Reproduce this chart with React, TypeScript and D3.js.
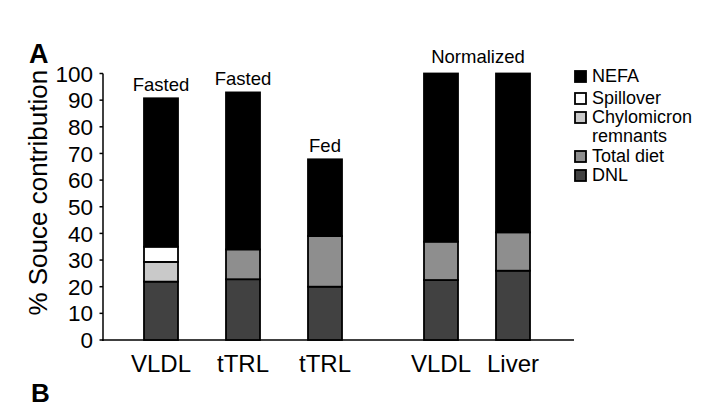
import { useMemo } from 'react';
import * as d3 from 'd3';

// bars in order, left group (fasted / fed) and right group (normalized)
const categories = ['VLDL', 'tTRL', 'tTRL', 'VLDL', 'Liver'];
const groups = ['left', 'left', 'left', 'right', 'right'];
const barNotes = ['Fasted', 'Fasted', 'Fed', '', ''];

// stacked from the bottom up
const sources = ['DNL', 'Total diet', 'Chylomicron remnants', 'Spillover', 'NEFA'];
const dnl = [21.9, 22.8, 20.0, 22.5, 26.0];
const totalDiet = [0, 11.2, 19.0, 14.4, 14.4];
const chylo = [7.4, 0, 0, 0, 0];
const spillover = [5.7, 0, 0, 0, 0];
const nefa = [55.7, 58.9, 28.8, 63.1, 59.6];

const yTicks = [0, 10, 20, 30, 40, 50, 60, 70, 80, 90, 100];
const legendLabels = ['NEFA', 'Spillover', 'Chylomicron|remnants', 'Total diet', 'DNL'];
const legendKeys = ['NEFA', 'Spillover', 'Chylomicron remnants', 'Total diet', 'DNL'];

const colors: Record<string, string> = {
  DNL: '#414141',
  'Total diet': '#8e8e8e',
  'Chylomicron remnants': '#c9c9c9',
  Spillover: '#ffffff',
  NEFA: '#000000',
};

const W = 712;
const H = 402;
const FONT = '"Liberation Sans", Arial, Helvetica, sans-serif';

export default function App() {
  const y = useMemo(() => d3.scaleLinear().domain([0, 100]).range([340, 73.5]), []);
  const xLeft = d3.scalePoint<number>().domain([0, 1, 2]).range([161, 325]);
  const xRight = d3.scalePoint<number>().domain([0, 1]).range([441, 513]);
  const barW = 34;
  const axisX = 103;

  const cx = (i: number) => {
    const before = groups.slice(0, i);
    return groups[i] === 'left'
      ? (xLeft(before.filter((g) => g === 'left').length) as number)
      : (xRight(before.filter((g) => g === 'right').length) as number);
  };

  const rows = categories.map((c, i) => ({
    i,
    DNL: dnl[i],
    'Total diet': totalDiet[i],
    'Chylomicron remnants': chylo[i],
    Spillover: spillover[i],
    NEFA: nefa[i],
  }));
  const stacked = d3.stack<any>().keys(sources)(rows);

  const totals = rows.map((r) => sources.reduce((s, k) => s + r[k], 0));
  const normCenter = (cx(3) + cx(4)) / 2 + 1;

  return (
    <svg width={W} height={H} style={{ position: 'absolute', left: 0, top: 0, background: '#fff' }} fontFamily={FONT}>
      {/* panel letters */}
      <text x={29} y={63} fontSize={27} fontWeight="bold">A</text>
      <text x={31} y={402} fontSize={26} fontWeight="bold">B</text>

      {/* y axis */}
      <line x1={axisX} x2={axisX} y1={y(100)} y2={y(0) + 1} stroke="#000" strokeWidth={1.5} />
      {yTicks.map((t) => (
        <g key={t}>
          <line x1={axisX - 3.5} x2={axisX} y1={y(t)} y2={y(t)} stroke="#000" strokeWidth={1.5} />
          <text x={93} y={y(t)} dy="0.36em" textAnchor="end" fontSize={22.5}>{t}</text>
        </g>
      ))}
      <text
        transform={`translate(47,${(y(0) + y(100)) / 2 - 14}) rotate(-90)`}
        textAnchor="middle"
        fontSize={26}
      >
        % Souce contribution
      </text>

      {/* x axis */}
      <line x1={axisX - 1} x2={574} y1={y(0)} y2={y(0)} stroke="#000" strokeWidth={1.5} />

      {/* bars */}
      {stacked.map((layer) =>
        layer.map((d, i) =>
          d[1] - d[0] > 0 ? (
            <rect
              key={layer.key + i}
              x={cx(i) - barW / 2}
              width={barW}
              y={y(d[1])}
              height={y(d[0]) - y(d[1])}
              fill={colors[layer.key]}
              stroke="#000"
              strokeWidth={1.8}
            />
          ) : null
        )
      )}

      {categories.map((c, i) => (
        <text key={'c' + i} x={cx(i)} y={372} textAnchor="middle" fontSize={24}>{c}</text>
      ))}
      {barNotes.map((n, i) =>
        n ? (
          <text key={'n' + i} x={cx(i)} y={y(totals[i]) - 7} textAnchor="middle" fontSize={18.5}>{n}</text>
        ) : null
      )}
      <text x={normCenter} y={63} textAnchor="middle" fontSize={18.5}>Normalized</text>

      {/* legend */}
      {legendKeys.map((k, j) => {
        const baselines = [82, 104, 123, 162, 181];
        const parts = legendLabels[j].split('|');
        return (
          <g key={k}>
            <rect x={575} y={baselines[j] - 11} width={11} height={11} fill={colors[k]} stroke="#000" strokeWidth={1.8} />
            {parts.map((p, pi) => (
              <text key={p} x={592} y={baselines[j] + pi * 19} fontSize={18}>{p}</text>
            ))}
          </g>
        );
      })}
    </svg>
  );
}
